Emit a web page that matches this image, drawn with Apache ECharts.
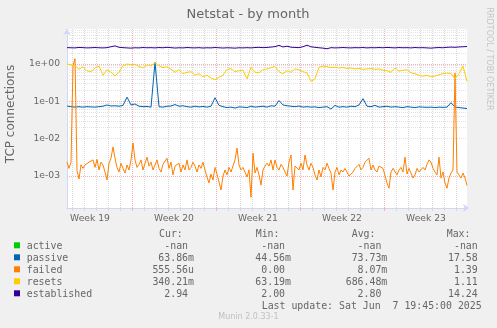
<!DOCTYPE html>
<html>
<head>
<meta charset="utf-8">
<title>Netstat - by month</title>
<script src="https://cdn.jsdelivr.net/npm/echarts@6/dist/echarts.min.js"></script>
<style>
  html, body { margin: 0; padding: 0; background: #f0f0f0; }
  #chart { width: 497px; height: 328px; }
</style>
</head>
<body>
<div id="chart"></div>
<script>
// ---- data (one value per 2-hour slot step, oldest first) ----
const weekLabels = ['Week 19', 'Week 20', 'Week 21', 'Week 22', 'Week 23'];

// passive connections, one value every 4 slots
const passive = [
  0.075, 0.072, 0.070, 0.072, 0.070, 0.072, 0.071, 0.070, 0.072, 0.074,
  0.080, 0.075, 0.076, 0.074, 0.078, 0.130, 0.080, 0.085, 0.074, 0.072,
  0.073, 0.070, 1.10, 0.072, 0.070, 0.074, 0.075, 0.082, 0.074, 0.076,
  0.072, 0.070, 0.074, 0.071, 0.073, 0.070, 0.074, 0.125, 0.078, 0.072,
  0.068, 0.070, 0.066, 0.071, 0.070, 0.068, 0.074, 0.070, 0.072, 0.074,
  0.070, 0.076, 0.074, 0.105, 0.080, 0.076, 0.074, 0.072, 0.075, 0.070,
  0.072, 0.070, 0.071, 0.068, 0.070, 0.072, 0.062, 0.078, 0.070, 0.072,
  0.070, 0.074, 0.072, 0.080, 0.118, 0.074, 0.072, 0.078, 0.070, 0.072,
  0.074, 0.070, 0.072, 0.070, 0.068, 0.072, 0.070, 0.068, 0.071, 0.070,
  0.069, 0.070, 0.068, 0.070, 0.069, 0.070, 0.092, 0.070, 0.068, 0.066,
  0.06386
];

// failed connection attempts, one value every 2 slots
const failed = [
  2.4e-3, 1.6e-3, 2.35e-3, 0.9, 1.39, 1.4e-3, 8.3e-4, 2.0e-3, 1.6e-3, 1.97e-3,
  2.2e-3, 2.35e-3, 2.2e-3, 2.7e-3, 1.7e-3, 2.8e-3, 1.45e-3, 2.35e-3, 1.97e-3, 1.28e-3,
  7.8e-4, 2.2e-3, 3.0e-3, 6.0e-3, 3.0e-3, 1.7e-3, 1.28e-3, 2.2e-3, 1.6e-3, 1.2e-3,
  1.97e-3, 1.45e-3, 2.7e-3, 7.7e-3, 2.7e-3, 1.7e-3, 2.05e-3, 2.7e-3, 1.45e-3, 1.6e-3,
  3.2e-3, 1.84e-3, 2.35e-3, 1.45e-3, 1.97e-3, 2.7e-3, 1.6e-3, 1.28e-3, 2.05e-3, 1.84e-3,
  3.0e-3, 1.6e-3, 2.35e-3, 1.07e-3, 1.84e-3, 1.97e-3, 2.2e-3, 1.28e-3, 1.97e-3, 1.45e-3,
  2.7e-3, 1.45e-3, 1.7e-3, 2.35e-3, 1.84e-3, 1.28e-3, 1.97e-3, 1.6e-3, 2.35e-3, 1.45e-3,
  9.4e-4, 6.5e-4, 1.13e-3, 7.8e-4, 1.7e-3, 1.13e-3, 1.0e-3, 4.2e-4, 1.0e-3, 1.45e-3,
  1.07e-3, 1.7e-3, 1.28e-3, 1.36e-3, 2.7e-3, 5.6e-3, 1.97e-3, 1.45e-3, 1.7e-3, 1.28e-3,
  9.4e-4, 1.45e-3, 2.7e-4, 4.1e-3, 1.2e-3, 1.7e-3, 1.07e-3, 5.7e-4, 1.45e-3, 1.84e-3,
  2.2e-3, 1.84e-3, 2.7e-3, 1.45e-3, 2.7e-3, 1.7e-3, 1.45e-3, 2.05e-3, 1.7e-3, 1.28e-3,
  1.0e-3, 2.35e-3, 3.65e-3, 4.2e-4, 1.84e-3, 1.97e-3, 1.45e-3, 2.2e-3, 1.45e-3, 3.65e-3,
  1.97e-3, 1.45e-3, 2.2e-3, 1.7e-3, 1.07e-3, 7.8e-4, 1.45e-3, 9.4e-4, 1.7e-3, 1.45e-3,
  2.2e-3, 1.6e-3, 1.2e-3, 4.2e-4, 1.28e-3, 1.7e-3, 1.07e-3, 1.45e-3, 1.28e-3, 1.6e-3,
  1.7e-3, 1.0e-3, 9.4e-4, 1.28e-3, 1.6e-3, 1.45e-3, 2.05e-3, 1.45e-3, 1.7e-3, 2.35e-3,
  2.35e-3, 3.0e-3, 1.45e-3, 1.97e-3, 1.45e-3, 1.28e-3, 1.84e-3, 1.7e-3, 1.6e-3, 1.45e-3,
  6.5e-4, 4.7e-4, 1.28e-3, 1.6e-3, 1.45e-3, 1.07e-3, 1.45e-3, 1.7e-3, 1.28e-3, 3.2e-3,
  1.13e-3, 1.6e-3, 1.7e-3, 8.8e-4, 1.07e-3, 1.6e-3, 1.28e-3, 1.2e-3, 1.7e-3, 1.45e-3,
  2.05e-3, 2.7e-3, 2.35e-3, 1.6e-3, 1.28e-3, 1.07e-3, 3.2e-3, 8.8e-4, 1.28e-3, 6.5e-4,
  4.7e-4, 8.8e-4, 1.2e-3, 1.45e-3, 0.57, 1.28e-3, 1.28e-3, 8.8e-4, 1.2e-3, 8.8e-4,
  5.5556e-4
];

// connection resets, one value every 4 slots
const resets = [
  1.00, 0.95, 0.90, 0.72, 0.85, 0.66, 0.62, 0.78, 0.88, 0.50,
  0.70, 0.60, 0.48, 0.60, 0.90, 1.00, 0.96, 0.98, 0.86, 0.78,
  0.95, 0.90, 1.08, 0.90, 0.80, 0.84, 0.72, 0.60, 0.70, 0.55,
  0.60, 0.62, 0.50, 0.55, 0.45, 0.50, 0.42, 0.38, 0.44, 0.50,
  0.72, 0.75, 0.62, 0.66, 0.68, 0.40, 0.82, 0.60, 0.58, 0.70,
  0.74, 0.80, 0.86, 0.62, 0.55, 0.66, 0.60, 0.74, 0.70, 0.62,
  0.58, 0.34, 0.40, 0.82, 0.88, 0.85, 0.80, 0.82, 0.78, 0.80,
  0.76, 0.78, 0.74, 0.76, 0.72, 0.74, 0.76, 0.72, 0.74, 0.68,
  0.66, 0.60, 0.78, 0.64, 0.68, 0.70, 0.58, 0.55, 0.50, 0.47,
  0.50, 0.45, 0.48, 0.52, 0.55, 0.57, 0.56, 0.40, 0.55, 0.88,
  0.34021
];

// established connections, one value every 4 slots
const established = [
  2.75, 2.72, 2.70, 2.78, 2.74, 2.70, 2.72, 2.76, 2.72, 2.70,
  2.74, 2.90, 3.05, 2.80, 2.74, 2.70, 2.66, 2.72, 2.70, 2.76,
  2.72, 2.74, 2.70, 2.76, 2.72, 2.80, 2.74, 2.68, 2.72, 2.70,
  2.76, 2.72, 2.70, 2.74, 2.68, 2.72, 2.70, 2.76, 2.72, 2.68,
  2.72, 2.70, 2.66, 2.72, 2.70, 2.74, 2.70, 2.76, 2.80, 2.74,
  2.78, 2.84, 2.92, 3.15, 2.86, 3.00, 2.82, 2.78, 2.74, 2.90,
  3.20, 2.88, 2.80, 2.72, 2.66, 2.56, 2.74, 2.70, 2.72, 2.76,
  2.72, 2.70, 2.74, 2.72, 2.76, 2.70, 2.74, 2.72, 2.76, 2.72,
  2.78, 2.74, 2.70, 2.76, 2.72, 2.74, 2.70, 2.76, 2.72, 2.74,
  2.70, 2.66, 2.72, 2.76, 2.72, 2.80, 2.84, 2.80, 2.86, 2.90,
  2.94
];

// legend table
const legendNames = ['active', 'passive', 'failed', 'resets', 'established'];
const curVals = ['-nan', '63.86m', '555.56u', '340.21m', '2.94'];
const minVals = ['-nan', '44.56m', '0.00', '63.19m', '2.00'];
const avgVals = ['-nan', '73.73m', '8.07m', '686.48m', '2.80'];
const maxVals = ['-nan', '17.58', '1.39', '1.11', '14.24'];

// ---- layout / style ----
const COLORS = ['#00CC00', '#0066B3', '#FF8000', '#FFCC00', '#330099'];
const INK = '#666666';
const SANS = 'DejaVu Sans';
const MONO = 'DejaVu Sans Mono';
const AXIS_COLOR = '#CFD6F8';
const GRID_MINOR_V = '#d8d8d8';
const GRID_MINOR_H = '#e2e2e2';
const GRID_MAJOR = '#f6b2b2';

const SLOT_COUNT = 401;          // 2-hour slots across the plot
const DAY_SLOTS = 12;
const WEEK_SLOTS = 84;
const FIRST_WEEK_SLOT = 65;      // first week boundary
const Y_MIN = 1.39e-4, Y_MAX = 8.66;

const mod = (a, n) => ((a % n) + n) % n;
const isWeekLine = i => mod(i - FIRST_WEEK_SLOT, WEEK_SLOTS) === 0;
const isDayLine = i => mod(i - FIRST_WEEK_SLOT, DAY_SLOTS) === 0 && !isWeekLine(i);
const isWeekMid = i => mod(i - FIRST_WEEK_SLOT - WEEK_SLOTS / 2, WEEK_SLOTS) === 0;
const slots = Array.from({ length: SLOT_COUNT }, (_, i) => String(i));
const toPairs = (vals, step) => vals.map((v, i) => [i * step, v]);

function decadeLabel(v) {
  const l = Math.log10(v);
  const e = Math.round(l);
  if (Math.abs(l - e) > 1e-6) return '';
  const a = Math.abs(e);
  return '1e' + (e < 0 ? '-' : '+') + (a < 10 ? '0' : '') + a;
}

// horizontal log sub-grid: 2..9 within each decade
const minorLines = [];
for (let e = -4; e <= 0; e++) {
  for (let m = 2; m <= 9; m++) {
    const v = m * Math.pow(10, e);
    if (v < Y_MIN || v > Y_MAX) continue;
    minorLines.push({ yAxis: v });
  }
}

function lineSeries(name, vals, step, color) {
  return {
    name, type: 'line', data: toPairs(vals, step),
    xAxisIndex: 0, yAxisIndex: 0,
    showSymbol: false, symbol: 'none', z: 10,
    lineStyle: { color, width: 1 }, itemStyle: { color },
    emphasis: { disabled: true }, animation: false
  };
}

// legend graphics
const graphics = [];
const text = (x, y, str, opts) => Object.assign({
  type: 'text', x, y, silent: true,
  style: Object.assign({ text: str, fill: INK, font: '9.9px "' + MONO + '"',
    align: 'left', verticalAlign: 'middle' }, opts || {})
});
graphics.push(text(248, 14.8, 'Netstat - by month', { font: '13px "' + SANS + '"', align: 'center' }));
graphics.push(Object.assign(text(11, 114, 'TCP connections', { font: '12px "' + SANS + '"', align: 'center' }), { rotation: Math.PI / 2 }));
graphics.push(Object.assign(text(489, 59, 'RRDTOOL / TOBI OETIKER', { font: '8px "' + SANS + '"', align: 'center', fill: '#c4c4c4' }), { rotation: -Math.PI / 2 }));

const CHAR_W = 5.97;
const colRight = [194, 291, 387.3, 483.7];
const colHeadX = [159, 255.7, 351.7, 446.7];
const heads = ['Cur:', 'Min:', 'Avg:', 'Max:'];
const cols = [curVals, minVals, avgVals, maxVals];
const ROW0 = 246.3, ROW_H = 12;
heads.forEach((h, c) => graphics.push(text(colHeadX[c], ROW0 - ROW_H, h)));
legendNames.forEach((name, r) => {
  const y = ROW0 + r * ROW_H;
  graphics.push({ type: 'rect', silent: true, shape: { x: 14, y: y - 4, width: 6, height: 6 }, style: { fill: COLORS[r] } });
  graphics.push(text(26.7, y, name));
  cols.forEach((col, c) => {
    const s = col[r];
    const hasUnit = /[a-zA-Z]$/.test(s) && s !== '-nan';
    graphics.push(text(colRight[c] - (hasUnit ? 0 : CHAR_W), y, s, { align: 'right' }));
  });
});
graphics.push(text(261.7, ROW0 + 5 * ROW_H, 'Last update: Sat Jun  7 19:45:00 2025'));
graphics.push(text(248.5, 317, 'Munin 2.0.33-1', { font: '8px "' + SANS + '"', align: 'center', fill: '#c0c0c0' }));

const chart = echarts.init(document.getElementById('chart'), null, { renderer: 'canvas' });
chart.setOption({
  backgroundColor: '#f0f0f0',
  animation: false,
  grid: { left: 67, right: 30, top: 29, bottom: 120, show: true, backgroundColor: '#ffffff', borderWidth: 0 },
  xAxis: [
    {
      type: 'category', data: slots, boundaryGap: false,
      axisLine: { show: true, lineStyle: { color: AXIS_COLOR, width: 1 }, symbol: ['none', 'arrow'], symbolSize: [6, 6], symbolOffset: [0, 2] },
      axisTick: { show: true, interval: (i) => isDayLine(i), length: 3, lineStyle: { color: GRID_MINOR_V } },
      axisLabel: {
        show: true, interval: (i) => isWeekMid(i), margin: 6,
        color: INK, fontFamily: SANS, fontSize: 9.2,
        formatter: (v, i) => weekLabels[Math.round((i - (FIRST_WEEK_SLOT - WEEK_SLOTS / 2)) / WEEK_SLOTS)] || ''
      },
      splitLine: { show: true, interval: (i) => isDayLine(i), lineStyle: { color: GRID_MINOR_V, type: [1, 1], width: 1 } }
    },
    {
      type: 'category', data: slots, boundaryGap: false, position: 'bottom',
      axisLine: { show: false },
      axisTick: { show: true, interval: (i) => isWeekLine(i), length: 3, lineStyle: { color: GRID_MAJOR } },
      axisLabel: { show: false },
      splitLine: { show: true, interval: (i) => isWeekLine(i), lineStyle: { color: GRID_MAJOR, type: [1, 1], width: 1 } }
    }
  ],
  yAxis: {
    type: 'log', logBase: 10, min: Y_MIN, max: Y_MAX,
    axisLine: { show: true, lineStyle: { color: AXIS_COLOR, width: 1 }, symbol: ['none', 'arrow'], symbolSize: [6, 6], symbolOffset: [0, 0] },
    axisTick: { show: false },
    splitLine: { show: true, showMinLine: false, showMaxLine: false, lineStyle: { color: GRID_MAJOR, type: [1, 1], width: 1 } },
    minorSplitLine: { show: false },
    axisLabel: { color: INK, fontFamily: SANS, fontSize: 9.2, margin: 7, formatter: decadeLabel }
  },
  series: [
    {
      name: 'minor grid', type: 'line', data: [], xAxisIndex: 0, yAxisIndex: 0, z: 1,
      itemStyle: { color: GRID_MINOR_H }, lineStyle: { color: GRID_MINOR_H },
      markLine: {
        silent: true, symbol: ['none', 'none'], label: { show: false }, animation: false,
        lineStyle: { color: GRID_MINOR_H, type: [1, 1], width: 1, opacity: 1 },
        emphasis: { disabled: true },
        data: minorLines
      }
    },
    lineSeries('passive', passive, 4, COLORS[1]),
    lineSeries('failed', failed, 2, COLORS[2]),
    lineSeries('resets', resets, 4, COLORS[3]),
    lineSeries('established', established, 4, COLORS[4])
  ],
  graphic: graphics
});
</script>
</body>
</html>
